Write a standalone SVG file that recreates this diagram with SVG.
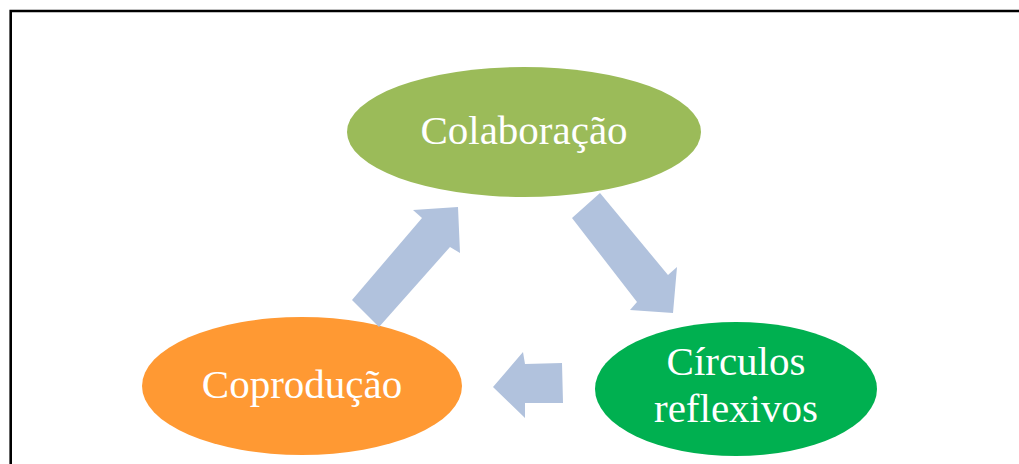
<svg xmlns="http://www.w3.org/2000/svg" width="1019" height="464" viewBox="0 0 1019 464">
<style>
.lbl{font-family:"Liberation Serif","Times New Roman",serif;font-size:41px;fill:#ffffff;text-anchor:middle}
.arr{fill:#B1C2DD;stroke:none}
</style>
<rect x="0" y="0" width="1019" height="464" fill="#ffffff"/>
<path d="M10.7,470 V11 H1025" fill="none" stroke="#000000" stroke-width="2.6"/>
<g id="node-colaboracao">
<ellipse cx="524" cy="132" rx="177" ry="65" fill="#9BBB59"/>
<text class="lbl" x="524" y="144">Colaboração</text>
</g>
<g id="node-coproducao">
<ellipse cx="302" cy="386" rx="160" ry="69" fill="#FF9933"/>
<text class="lbl" x="302" y="398">Coprodução</text>
</g>
<g id="node-circulos">
<ellipse cx="736" cy="389" rx="141" ry="67" fill="#00B050"/>
<text class="lbl" x="736" y="375">Círculos</text>
<text class="lbl" x="736" y="422">reflexivos</text>
</g>
<g id="connectors">
<polygon class="arr" points="352,300 422,218 413,210 458,207 460,253 450,247 379,327"/>
<polygon class="arr" points="600,193 668,275 677,267 673,313 630,310 637,302 572,218"/>
<polygon class="arr" points="562,363 525,364 523,352 493,387 525,418 525,403 563,403"/>
</g>
</svg>
